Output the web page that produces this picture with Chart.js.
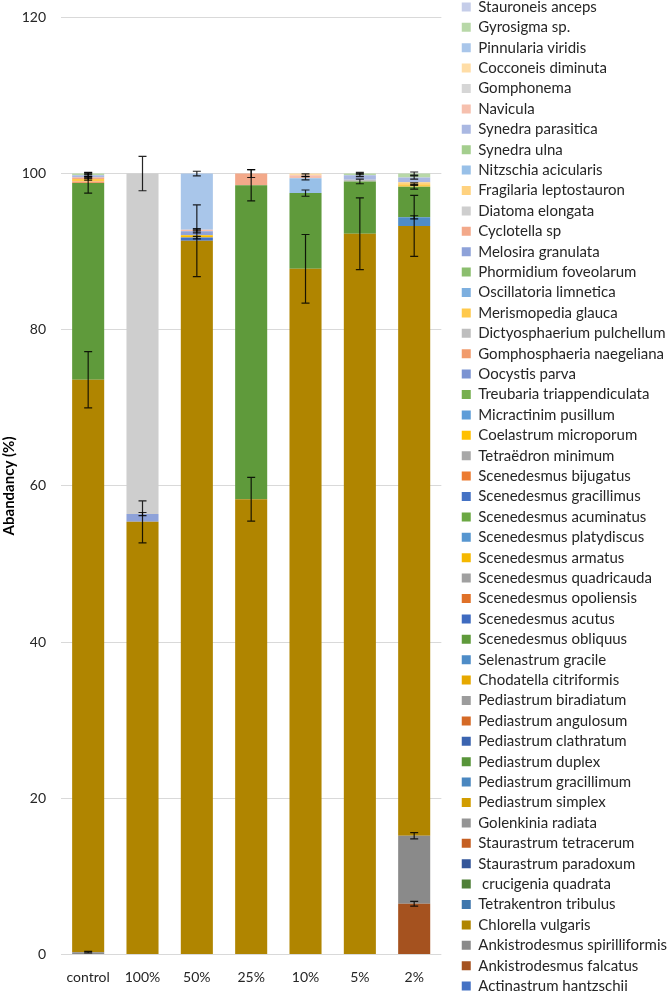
<!DOCTYPE html>
<html>
<head>
<meta charset="utf-8">
<script src="https://cdn.jsdelivr.net/npm/chart.js@4.4.1/dist/chart.umd.min.js"></script>
<style>
  html, body { margin: 0; padding: 0; background: #fff; overflow: hidden; }
  #wrap { position: absolute; left: 0; top: -6px; }
</style>
</head>
<body>
<div id="wrap"><canvas id="algaeChart" width="677" height="1010"></canvas></div>
<script>
var categories = ['control', '100%', '50%', '25%', '10%', '5%', '2%'];

// species from the bottom of the stack upward (legend shows them reversed)
var species = [
  'Actinastrum hantzschii', 'Ankistrodesmus falcatus', 'Ankistrodesmus spirilliformis',
  'Chlorella vulgaris', 'Tetrakentron tribulus', ' crucigenia quadrata',
  'Staurastrum paradoxum', 'Staurastrum tetracerum', 'Golenkinia radiata',
  'Pediastrum simplex', 'Pediastrum gracillimum', 'Pediastrum duplex',
  'Pediastrum clathratum', 'Pediastrum angulosum', 'Pediastrum biradiatum',
  'Chodatella citriformis', 'Selenastrum gracile', 'Scenedesmus obliquus',
  'Scenedesmus acutus', 'Scenedesmus opoliensis', 'Scenedesmus quadricauda',
  'Scenedesmus armatus', 'Scenedesmus platydiscus', 'Scenedesmus acuminatus',
  'Scenedesmus gracillimus', 'Scenedesmus bijugatus', 'Tetraëdron minimum',
  'Coelastrum microporum', 'Micractinim pusillum', 'Treubaria triappendiculata',
  'Oocystis parva', 'Gomphosphaeria naegeliana', 'Dictyosphaerium pulchellum',
  'Merismopedia glauca', 'Oscillatoria limnetica', 'Phormidium foveolarum',
  'Melosira granulata', 'Cyclotella sp', 'Diatoma elongata',
  'Fragilaria leptostauron', 'Nitzschia acicularis', 'Synedra ulna',
  'Synedra parasitica', 'Navicula', 'Gomphonema',
  'Cocconeis diminuta', 'Pinnularia viridis', 'Gyrosigma sp.', 'Stauroneis anceps'
];

var speciesColors = [
  '#4472c4', '#a5521f', '#8a8a8a', '#b08500', '#3e76ad', '#4f7f37',
  '#33569a', '#c55f22', '#959595', '#d29d00', '#4a87c0', '#58953a',
  '#3b64b0', '#d56a26', '#9c9c9c', '#e6a800', '#4e8cc7', '#5f9a3b',
  '#3f6bc0', '#e07128', '#a0a0a0', '#f5b800', '#5796d0', '#6ba843',
  '#4472c4', '#ec7b31', '#a8a8a8', '#ffc000', '#5e9dd8', '#76af4e',
  '#7b93d2', '#f19b6c', '#bebebe', '#ffc94b', '#7dafdf', '#8bbe6e',
  '#8ea2d9', '#f3a98a', '#cecece', '#ffd27f', '#98c0e8', '#a4ce8e',
  '#aab8e2', '#f6c0ae', '#d6d6d6', '#ffdda6', '#a9c6ea', '#b8d8a8', '#c5cde9'
];

// abundance (%) per treatment, only species that actually appear in the bars
var ankFalcatus   = [0, 0, 0, 0, 0, 0, 6.5];
var ankSpiril     = [0.3, 0, 0, 0, 0, 0, 8.7];
var chlorella     = [73.3, 55.4, 91.4, 58.3, 87.8, 92.3, 78.1];
var selenastrum   = [0, 0, 0, 0, 0, 0, 1.1];
var scenObliquus  = [25.2, 0, 0, 40.2, 9.7, 6.7, 3.9];
var scenGracil    = [0, 0, 0.4, 0, 0, 0, 0];
var coelastrum    = [0, 0, 0.3, 0, 0, 0, 0];
var gomphosphaeria = [0.2, 0, 0, 0, 0, 0, 0];
var dictyosph     = [0, 0, 0, 0, 0, 0.2, 0];
var merismopedia  = [0.3, 0, 0, 0, 0, 0, 0.35];
var melosira      = [0, 1.0, 0.5, 0, 0, 0, 0];
var cyclotella    = [0.2, 0, 0, 1.5, 0, 0, 0];
var diatoma       = [0, 43.6, 0, 0, 0, 0, 0];
var fragilaria    = [0, 0, 0, 0, 0, 0, 0.25];
var nitzschia     = [0, 0, 0, 0, 1.9, 0, 0];
var synedraPar    = [0.3, 0, 0, 0, 0, 0.6, 0.6];
var navicula      = [0, 0, 0.2, 0, 0.4, 0, 0];
var cocconeis     = [0, 0, 0, 0, 0.2, 0, 0];
var pinnularia    = [0, 0, 7.2, 0, 0, 0, 0];
var gyrosigma     = [0.2, 0, 0, 0, 0, 0.2, 0.5];

// +/- error at the top of each segment
var ankFalcatusErr   = [0, 0, 0, 0, 0, 0, 0.3];
var ankSpirilErr     = [0.1, 0, 0, 0, 0, 0, 0.4];
var chlorellaErr     = [3.6, 2.7, 4.6, 2.8, 4.4, 4.6, 3.9];
var selenastrumErr   = [0, 0, 0, 0, 0, 0, 0.2];
var scenObliquusErr  = [1.3, 0, 0, 2.0, 0.4, 0.3, 0.3];
var scenGracilErr    = [0, 0, 0.15, 0, 0, 0, 0];
var merismopediaErr  = [0.15, 0, 0, 0, 0, 0, 0.15];
var melosiraErr      = [0, 0.2, 0.2, 0, 0, 0, 0];
var cyclotellaErr    = [0.1, 0, 0, 0.5, 0, 0, 0];
var diatomaErr       = [0, 2.2, 0, 0, 0, 0, 0];
var nitzschiaErr     = [0, 0, 0, 0, 0.2, 0, 0];
var synedraParErr    = [0.15, 0, 0, 0, 0, 0.2, 0.2];
var naviculaErr      = [0, 0, 0.15, 0, 0.15, 0, 0];
var pinnulariaErr    = [0, 0, 0.3, 0, 0, 0, 0];
var gyrosigmaErr     = [0.15, 0, 0, 0, 0, 0.15, 0.2];

var seriesValues = {
  'Ankistrodesmus falcatus': ankFalcatus,
  'Ankistrodesmus spirilliformis': ankSpiril,
  'Chlorella vulgaris': chlorella,
  'Selenastrum gracile': selenastrum,
  'Scenedesmus obliquus': scenObliquus,
  'Scenedesmus gracillimus': scenGracil,
  'Coelastrum microporum': coelastrum,
  'Gomphosphaeria naegeliana': gomphosphaeria,
  'Dictyosphaerium pulchellum': dictyosph,
  'Merismopedia glauca': merismopedia,
  'Melosira granulata': melosira,
  'Cyclotella sp': cyclotella,
  'Diatoma elongata': diatoma,
  'Fragilaria leptostauron': fragilaria,
  'Nitzschia acicularis': nitzschia,
  'Synedra parasitica': synedraPar,
  'Navicula': navicula,
  'Cocconeis diminuta': cocconeis,
  'Pinnularia viridis': pinnularia,
  'Gyrosigma sp.': gyrosigma
};

var seriesErrors = {
  'Ankistrodesmus falcatus': ankFalcatusErr,
  'Ankistrodesmus spirilliformis': ankSpirilErr,
  'Chlorella vulgaris': chlorellaErr,
  'Selenastrum gracile': selenastrumErr,
  'Scenedesmus obliquus': scenObliquusErr,
  'Scenedesmus gracillimus': scenGracilErr,
  'Merismopedia glauca': merismopediaErr,
  'Melosira granulata': melosiraErr,
  'Cyclotella sp': cyclotellaErr,
  'Diatoma elongata': diatomaErr,
  'Nitzschia acicularis': nitzschiaErr,
  'Synedra parasitica': synedraParErr,
  'Navicula': naviculaErr,
  'Pinnularia viridis': pinnulariaErr,
  'Gyrosigma sp.': gyrosigmaErr
};

var datasets = species.map(function(name, i) {
  return {
    label: name,
    data: seriesValues[name] || categories.map(function() { return 0; }),
    errors: seriesErrors[name] || null,
    backgroundColor: speciesColors[i],
    borderWidth: 0,
    barPercentage: 0.59,
    categoryPercentage: 1
  };
});

// draws the +/- error bars on top of each stacked segment
var errorBars = {
  id: 'errorBars',
  afterDatasetsDraw: function(chart) {
    var ctx = chart.ctx;
    var yScale = chart.scales.y;
    var sums = categories.map(function() { return 0; });
    ctx.save();
    ctx.strokeStyle = 'rgba(0,0,0,0.85)';
    ctx.lineWidth = 1.2;
    chart.data.datasets.forEach(function(ds, d) {
      var meta = chart.getDatasetMeta(d);
      ds.data.forEach(function(v, i) {
        sums[i] += v;
        var err = ds.errors ? ds.errors[i] : 0;
        if (!v || !err) return;
        var x = meta.data[i].x;
        var top = yScale.getPixelForValue(sums[i] + err);
        var bottom = yScale.getPixelForValue(sums[i] - err);
        ctx.beginPath();
        ctx.moveTo(x, top); ctx.lineTo(x, bottom);
        ctx.moveTo(x - 4, top); ctx.lineTo(x + 4, top);
        ctx.moveTo(x - 4, bottom); ctx.lineTo(x + 4, bottom);
        ctx.stroke();
      });
    });
    ctx.restore();
  }
};

var ctx = document.getElementById('algaeChart');

var barGraph = new Chart(ctx, {
  type: 'bar',
  data: {
    labels: categories,
    datasets: datasets
  },
  plugins: [errorBars],
  options: {
    responsive: false,
    animation: false,
    layout: { padding: 0 },
    plugins: {
      legend: {
        position: 'right',
        align: 'start',
        reverse: true,
        maxWidth: 400,
        labels: {
          boxWidth: 9,
          boxHeight: 9,
          padding: 5.4,
          color: '#262626',
          font: { family: 'Lato', size: 15 }
        }
      },
      tooltip: { enabled: false }
    },
    scales: {
      x: {
        stacked: true,
        grid: { display: false },
        border: { display: false },
        ticks: {
          color: '#262626',
          font: { family: 'Lato', size: 14 },
          padding: 7,
          maxRotation: 0,
          autoSkip: false
        },
        afterFit: function(s) { s.height = 49.5; }
      },
      xTop: {
        type: 'category',
        position: 'top',
        grid: { display: false },
        border: { display: false },
        ticks: { display: false },
        afterFit: function(s) { s.height = 20.7; }
      },
      y: {
        stacked: true,
        min: 0,
        max: 120,
        ticks: {
          stepSize: 20,
          padding: 15,
          color: '#262626',
          font: { family: 'Lato', size: 14 }
        },
        grid: { color: '#d9d9d9', drawTicks: false },
        border: { display: false },
        title: {
          display: true,
          text: 'Abandancy (%)',
          color: '#000',
          padding: 0,
          font: { family: 'Lato', size: 15, weight: 'bold' }
        },
        afterFit: function(s) { s.width = 61; }
      },
      yRight: {
        position: 'right',
        grid: { display: false },
        border: { display: false },
        ticks: { display: false },
        afterFit: function(s) { s.width = 15; }
      }
    }
  }
});
</script>
</body>
</html>
